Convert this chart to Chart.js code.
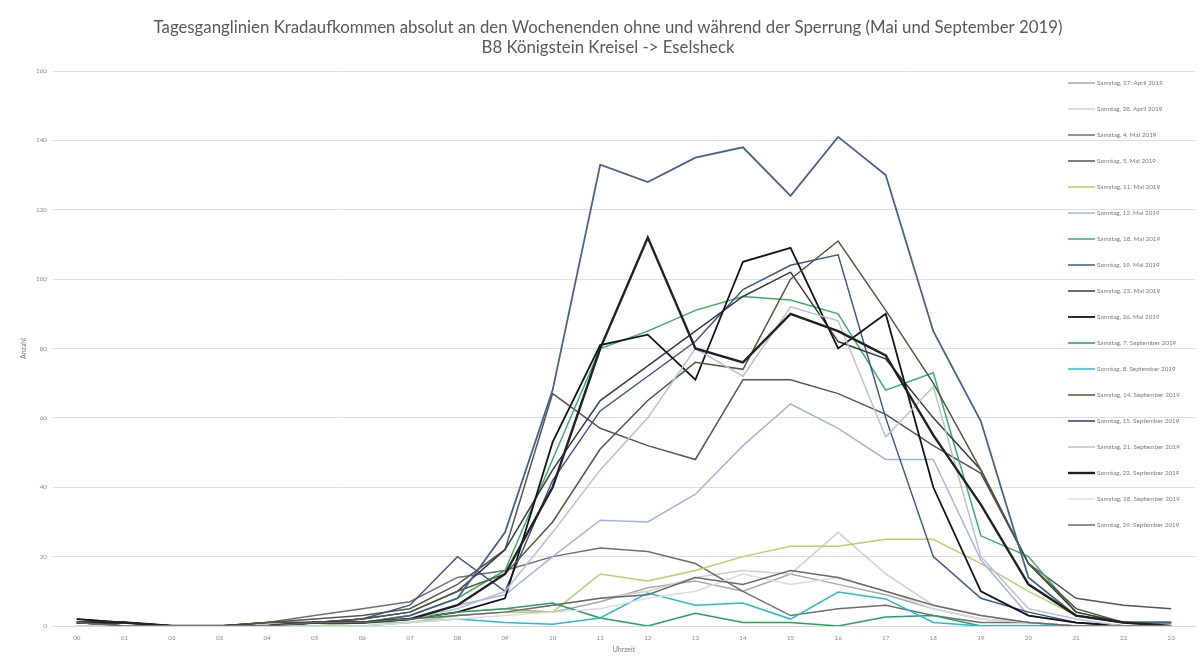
<!DOCTYPE html>
<html>
<head>
<meta charset="utf-8">
<script src="https://cdn.jsdelivr.net/npm/chart.js@4/dist/chart.umd.min.js"></script>
<style>
  html, body { margin: 0; padding: 0; background: #ffffff; }
  #wrap { position: relative; width: 1202px; height: 660px; }
</style>
</head>
<body>
<div id="wrap"><canvas id="c" width="1202" height="660"></canvas></div>
<script>
const titleLines = [
  'Tagesganglinien Kradaufkommen absolut an den Wochenenden ohne und während der Sperrung (Mai und September 2019)',
  'B8 Königstein Kreisel -> Eselsheck'
];
const hours = ['00','01','02','03','04','05','06','07','08','09','10','11','12','13','14','15','16','17','18','19','20','21','22','23'];
const seriesNames = [
  'Samstag, 27. April 2019', 'Sonntag, 28. April 2019',
  'Samstag, 4. Mai 2019', 'Sonntag, 5. Mai 2019',
  'Samstag, 11. Mai 2019', 'Sonntag, 12. Mai 2019',
  'Samstag, 18. Mai 2019', 'Sonntag, 19. Mai 2019',
  'Samstag, 25. Mai 2019', 'Sonntag, 26. Mai 2019',
  'Samstag, 7. September 2019', 'Sonntag, 8. September 2019',
  'Samstag, 14. September 2019', 'Sonntag, 15. September 2019',
  'Samstag, 21. September 2019', 'Sonntag, 22. September 2019',
  'Samstag, 28. September 2019', 'Sonntag, 29. September 2019'
];
const sa27Apr = [1,1,0,0,0,1,1,2,4,5,4,7,11,13,10,15,12,9,5,2,1,0,0,0];
const so28Apr = [0,0,0,0,0,0,1,1,3,4,6,8,10,14,16,15,27,15,6,3,1,0,0,0];
const sa04Mai = [1,1,0,0,1,3,5,7,14,16,20,22.5,21.5,18,10,3,5,6,3,1,1,0,0,0];
const so05Mai = [2,1,0,0,1,2,3,5,12,22,67,57,52,48,71,71,67,61,52,44,18,8,6,5];
const sa11Mai = [0,0,0,0,0,0,1,1,3,4,4,15,13,16,20,23,23,25,25,18,10,3,1,0];
const so12Mai = [1,0,0,0,0,1,1,2,6,9,20,30.5,30,38,52,64,57,48,48,19,3,1,0,0];
const sa18Mai = [1,0,0,0,0,1,1,3,8,16,48,80,85,91,95,94,90,68,73,26,20,4,1,1];
const so19Mai = [1,0,0,0,0,1,2,6,20,10,42,62,72,82,97,104,107,60,20,8,4,1,0,0];
const sa25Mai = [1,1,0,0,1,1,2,4,10,22,45,65,75,85,95,102,82,77,60,45,18,4,1,1];
const so26Mai = [2,1,0,0,0,1,1,2,4,8,53,81,84,71,105,109,80,90,40,10,3,1,0,0];
const sa07Sep = [1,0,0,0,0,1,1,2,4,5,6.6,2.3,0,3.7,1,1,0,2.6,3,0,0,0,0,0];
const so08Sep = [1,1,0,0,0,0,0,1,2,1,0.5,2.3,9.5,6,6.6,2,9.8,7.8,1,0,0,0,0,0];
const sa14Sep = [1,0,0,0,1,1,2,4,10,15,30,51,65,76,74,100,111,91,70,45,18,5,1,1];
const so15Sep = [1,1,0,0,0,1,1,3,8,27,68,133,128,135,138,124,141,130,85,59,14,3,1,1];
const sa21Sep = [0,0,0,0,0,1,1,2,5,10,27,45,60,80,72,92,88,54.5,69,20,5,2,0,0];
const so22Sep = [1,1,0,0,0,1,1,2,6,15,40,80,112,80,76,90,85,78,55,35,12,3,1,0];
const sa28Sep = [0,0,0,0,0,0,0,1,2,3,4,5,8,10,15,12,14,10,5,2,1,0,0,0];
const so29Sep = [1,0,0,0,0,1,1,2,3,4,6,8,9,14,12,16,14,10,6,3,1,0,0,0];

const seriesValues = [sa27Apr, so28Apr, sa04Mai, so05Mai, sa11Mai, so12Mai, sa18Mai, so19Mai,
  sa25Mai, so26Mai, sa07Sep, so08Sep, sa14Sep, so15Sep, sa21Sep, so22Sep, sa28Sep, so29Sep];
const seriesColors = ['#a8a8a8','#cfcfcf','#6f6f6f','#555555','#b5d06c','#a3b4df','#3aae66','#3d5592',
  '#3b3b3b','#141414','#23a062','#25bcd2','#4c5a3c','#46618c','#b8c1d2','#222222','#dcdcdc','#6a6a6a'];
const seriesWidths = [1.5,1.5,1.5,1.5,1.5,1.5,1.5,1.5,1.5,1.8,1.5,1.5,1.5,1.8,1.5,2.4,1.5,1.5];

const datasets = seriesNames.map((name, i) => ({
  label: name,
  data: seriesValues[i],
  borderColor: seriesColors[i],
  backgroundColor: seriesColors[i],
  borderWidth: seriesWidths[i],
  pointRadius: 0,
  tension: 0,
  fill: false,
  order: seriesNames.length - i
}));

const overlay = {
  id: 'overlay',
  afterDraw(chart) {
    const ctx = chart.ctx;
    ctx.save();
    ctx.fillStyle = '#595959';
    ctx.textAlign = 'center';
    ctx.textBaseline = 'middle';
    ctx.font = '16.8px Lato';
    ctx.fillText(titleLines[0], 608, 28);
    ctx.fillText(titleLines[1], 608, 48);
    // legend overlay
    ctx.textAlign = 'left';
    ctx.font = '6.3px Lato';
    chart.data.datasets.forEach((ds, i) => {
      const y = 83 + 26 * i;
      ctx.strokeStyle = ds.borderColor;
      ctx.lineWidth = ds.borderWidth;
      ctx.beginPath();
      ctx.moveTo(1068, y);
      ctx.lineTo(1095, y);
      ctx.stroke();
      ctx.fillStyle = '#7a7a7a';
      ctx.fillText(ds.label, 1097, y);
    });
    ctx.restore();
  }
};

new Chart(document.getElementById('c'), {
  type: 'line',
  data: { labels: hours, datasets },
  plugins: [overlay],
  options: {
    responsive: false,
    animation: false,
    layout: { padding: { top: 71, right: 7, left: 0, bottom: 0 } },
    plugins: { legend: { display: false }, title: { display: false }, tooltip: { enabled: false } },
    scales: {
      x: {
        offset: true,
        grid: { display: false, drawTicks: false },
        border: { display: true, color: '#d9d9d9' },
        ticks: { color: '#8a8a8a', font: { size: 6.3, family: 'Lato' }, padding: 8, maxRotation: 0, autoSkip: false },
        title: { display: true, text: 'Uhrzeit', color: '#7a7a7a', font: { size: 7, family: 'Lato' }, padding: { top: 2, bottom: 6 } },
        afterFit(s) { s.height = 34; }
      },
      y: {
        min: 0, max: 160,
        grid: { color: '#dedede', drawTicks: false },
        border: { display: false },
        ticks: { stepSize: 20, color: '#8a8a8a', font: { size: 6.3, family: 'Lato' }, padding: 6 },
        title: { display: true, text: 'Anzahl', color: '#7a7a7a', font: { size: 7, family: 'Lato' }, padding: { top: 20, bottom: 0 } },
        afterFit(s) { s.width = 53; }
      }
    }
  }
});
</script>
</body>
</html>
